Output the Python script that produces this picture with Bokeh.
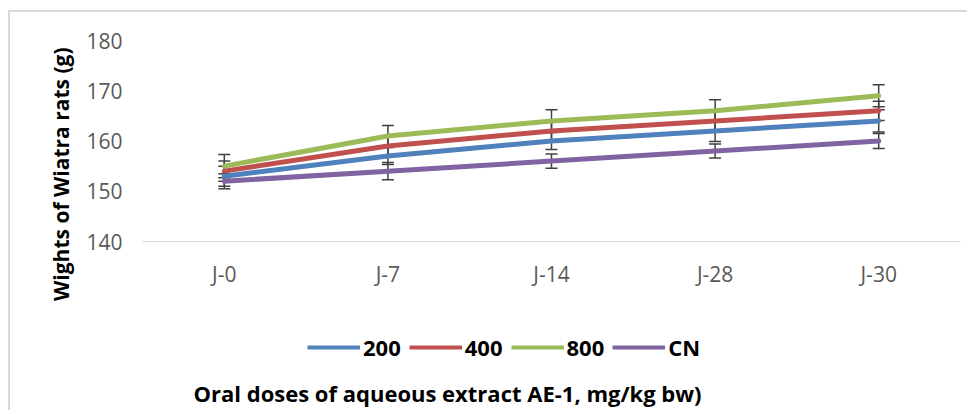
import math
from bokeh.plotting import figure
from bokeh.layouts import column
from bokeh.models import (ColumnDataSource, Whisker, Legend, LegendItem, Label, Title,
                          FixedTicker, TeeHead, Range1d, FactorRange)
from bokeh.embed import file_html
from bokeh.resources import INLINE

# ---- data ----
days = ["J-0", "J-7", "J-14", "J-28", "J-30"]
series_names = ["200", "400", "800", "CN"]
w200 = [153, 157, 160, 162, 164]
w400 = [154, 159, 162, 164, 166]
w800 = [155, 161, 164, 166, 169]
wCN = [152, 154, 156, 158, 160]
e200 = [2.0, 1.7, 1.7, 2.1, 2.2]
e400 = [2.0, 2.0, 2.0, 2.0, 1.9]
e800 = [2.3, 2.1, 2.2, 2.2, 2.2]
eCN = [1.5, 1.7, 1.4, 1.4, 1.5]
y_ticks = [140, 150, 160, 170, 180]
y_title = "Wights of Wiatra rats (g)"
x_title = "Oral doses of aqueous extract AE-1, mg/kg bw)"

colors = ["#4F81BD", "#C0504D", "#9BBB59", "#8064A2"]
values = [w200, w400, w800, wCN]
errors = [e200, e400, e800, eCN]

W = 957
x_range = FactorRange(*days, range_padding=0)
p = figure(width=W, height=290, x_range=x_range,
           y_range=Range1d(140, 180), output_backend="svg", toolbar_location=None,
           min_border_left=132, min_border_top=28, min_border_right=7, min_border_bottom=61)
p.outline_line_color = None
p.xgrid.grid_line_color = None
p.ygrid.grid_line_color = None

p.yaxis.ticker = FixedTicker(ticks=y_ticks)
p.yaxis.axis_line_color = None
p.yaxis.major_tick_line_color = None
p.yaxis.minor_tick_line_color = None
p.yaxis.major_tick_out = 0
p.yaxis.major_label_standoff = 20
p.yaxis.major_label_text_font = "Open Sans"
p.yaxis.major_label_text_font_size = "21px"
p.yaxis.major_label_text_color = "#595959"

p.xaxis.axis_line_color = "#d9d9d9"
p.xaxis.axis_line_width = 1
p.xaxis.major_tick_line_color = None
p.xaxis.major_tick_out = 0
p.xaxis.major_label_standoff = 18
p.xaxis.major_label_text_font = "Open Sans"
p.xaxis.major_label_text_font_size = "21px"
p.xaxis.major_label_text_color = "#595959"

sources = []
for name, vals, errs, col in zip(series_names, values, errors, colors):
    src = ColumnDataSource(dict(day=days, w=vals,
                                lo=[v - e for v, e in zip(vals, errs)],
                                hi=[v + e for v, e in zip(vals, errs)]))
    sources.append(src)
    wh = Whisker(base="day", upper="hi", lower="lo", source=src,
                 line_color="#404040", line_width=1.5,
                 upper_head=TeeHead(size=12, line_color="#404040", line_width=1.5),
                 lower_head=TeeHead(size=12, line_color="#404040", line_width=1.5))
    p.add_layout(wh)
    p.line(x="day", y="w", source=src, line_width=5, line_color=col,
           line_cap="round", line_join="round")

p.add_layout(Title(text=y_title, align="right", offset=7, standoff=18,
                   text_font="Open Sans", text_font_style="bold",
                   text_font_size="21px", text_color="black"), "left")

# ---- lower strip: legend and x title ----
H2 = 108
p2 = figure(width=W, height=H2, x_range=x_range, y_range=Range1d(0, H2),
            x_axis_location=None, y_axis_location=None,
            min_border_left=132, min_border_right=7, min_border_top=0, min_border_bottom=0,
            output_backend="svg", toolbar_location=None)
p2.outline_line_color = None
p2.grid.visible = False

# same series in the lower strip (outside its visible y range) to feed the legend
proxies = [p2.line(x="day", y="w", source=s, line_color=c, line_width=4)
           for s, c in zip(sources, colors)]
legend = Legend(items=[LegendItem(label=n, renderers=[r]) for n, r in zip(series_names, proxies)],
                orientation="horizontal", location=(165, 48),
                glyph_width=53, glyph_height=20, label_height=20, label_standoff=3,
                spacing=8, padding=0, margin=0, border_line_color=None,
                background_fill_alpha=0, label_text_font="Open Sans",
                label_text_font_style="bold", label_text_font_size="22px",
                label_text_color="black")
p2.add_layout(legend, "center")

p2.add_layout(Label(x=305, y=18, x_units="screen", y_units="screen", text=x_title,
                    text_align="center", text_baseline="middle",
                    text_font="Open Sans", text_font_style="bold",
                    text_font_size="22px", text_color="black"))

layout = column(p, p2, spacing=0,
                styles={"border-left": "2px solid #d9d9d9", "border-top": "2px solid #d9d9d9",
                        "margin-top": "10px", "margin-left": "8px"})

open("out.html", "w").write(file_html(layout, INLINE))
